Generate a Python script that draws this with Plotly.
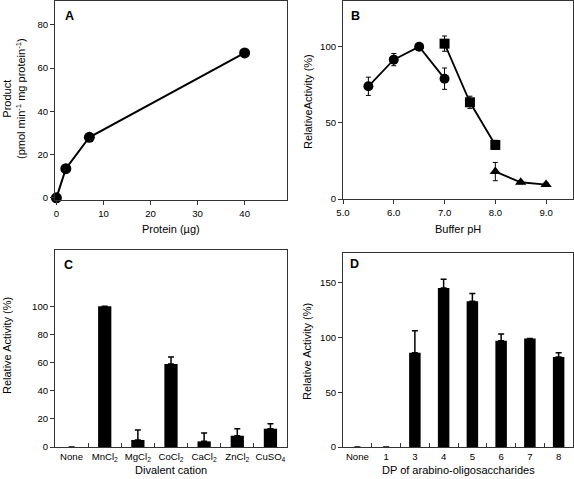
import plotly.graph_objects as go

# ---------------- data ----------------
# Panel A
protein_ug = [0, 2, 7, 40]
product = [0, 13.5, 28, 67]

# Panel B (three buffers)
ph_circle = [5.5, 6.0, 6.5, 7.0]
act_circle = [74, 91.5, 100, 79]
err_circle = [6, 4, 1, 7]
ph_square = [7.0, 7.5, 8.0]
act_square = [102, 63.5, 35.5]
err_square = [5, 4, 3]
ph_tri = [8.0, 8.5, 9.0]
act_tri = [18, 11, 9.5]
err_tri = [6, 1, 1]

# Panel C
cations = ["None", "MnCl2", "MgCl2", "CoCl2", "CaCl2", "ZnCl2", "CuSO4"]
cation_labels = ["None", "MnCl<sub>2</sub>", "MgCl<sub>2</sub>", "CoCl<sub>2</sub>",
                 "CaCl<sub>2</sub>", "ZnCl<sub>2</sub>", "CuSO<sub>4</sub>"]
cation_act = [0, 100, 5, 59, 4, 8, 13]
cation_err = [None, None, 7, 5, 6, 5, 3.5]

# Panel D
dp = ["None", "1", "3", "4", "5", "6", "7", "8"]
dp_act = [0, 0, 86, 145, 133, 97, 99, 82]
dp_err = [None, None, 20, 8, 7, 6, None, 4]

# --------------- figure ---------------
FONT = "Liberation Sans, Arial, sans-serif"
BLACK = "#000000"
AX = "#333333"

fig = go.Figure()

fig.add_trace(go.Scatter(x=protein_ug, y=product, mode="lines+markers",
                         line=dict(color=BLACK, width=2),
                         marker=dict(symbol="circle", size=11, color=BLACK),
                         xaxis="x", yaxis="y", showlegend=False, cliponaxis=False))

for xs, ys, es, sym in [(ph_circle, act_circle, err_circle, "circle"),
                        (ph_square, act_square, err_square, "square"),
                        (ph_tri, act_tri, err_tri, "triangle-up")]:
    fig.add_trace(go.Scatter(x=xs, y=ys, mode="lines+markers",
                             line=dict(color=BLACK, width=1.8),
                             marker=dict(symbol=sym, size=10, color=BLACK),
                             error_y=dict(type="data", array=es, color=BLACK,
                                          thickness=1, width=2.5),
                             xaxis="x2", yaxis="y2", showlegend=False))

fig.add_trace(go.Bar(x=cations, y=cation_act, width=0.4,
                     marker=dict(color=BLACK, line=dict(width=0)),
                     error_y=dict(type="data", symmetric=False, array=cation_err,
                                  arrayminus=[0] * len(cation_err),
                                  color=BLACK, thickness=1.5, width=3),
                     xaxis="x3", yaxis="y3", showlegend=False))

fig.add_trace(go.Bar(x=dp, y=dp_act, width=0.4,
                     marker=dict(color=BLACK, line=dict(width=0)),
                     error_y=dict(type="data", symmetric=False, array=dp_err,
                                  arrayminus=[0] * len(dp_err),
                                  color=BLACK, thickness=1.5, width=3),
                     xaxis="x4", yaxis="y4", showlegend=False))

W, H = 574, 479


def dx(px):
    return px / W


def dy(py):
    return 1 - py / H


tickfont = dict(family=FONT, size=9.6, color=BLACK)
common = dict(showline=True, linecolor=AX, linewidth=1, mirror=True,
              showgrid=False, zeroline=False, tickfont=tickfont,
              tickcolor=AX, ticklen=4, tickwidth=1, automargin=False)

fig.update_layout(
    width=W, height=H,
    margin=dict(l=0, r=0, t=0, b=0),
    paper_bgcolor="white", plot_bgcolor="white",
    font=dict(family=FONT, color=BLACK),
    bargap=0.6,
    xaxis=dict(domain=[dx(55), dx(287)], range=[-0.3, 49], tickvals=[0, 10, 20, 30, 40],
               ticks="outside", anchor="y", tickangle=0, **common),
    yaxis=dict(domain=[dy(200), dy(1)], range=[-1, 91], tickvals=[0, 20, 40, 60, 80],
               ticks="outside", anchor="x", **common),
    xaxis2=dict(domain=[dx(343), dx(573)], range=[5.0, 9.53],
                tickvals=[5, 6, 7, 8, 9], ticktext=["5.0", "6.0", "7.0", "8.0", "9.0"],
                ticks="outside", anchor="y2", tickangle=0, **common),
    yaxis2=dict(domain=[dy(199), dy(1)], range=[0, 130], tickvals=[0, 50, 100],
                ticks="outside", anchor="x2", **common),
    xaxis3=dict(domain=[dx(55), dx(287)], type="category", tickvals=cations,
                ticktext=cation_labels, ticks="inside", tickson="boundaries",
                anchor="y3", tickangle=0, **common),
    yaxis3=dict(domain=[dy(447), dy(250)], range=[0, 140],
                tickvals=[0, 20, 40, 60, 80, 100],
                ticks="outside", anchor="x3", **common),
    xaxis4=dict(domain=[dx(343), dx(573)], type="category", tickvals=dp,
                ticks="inside", tickson="boundaries", anchor="y4", tickangle=0, **common),
    yaxis4=dict(domain=[dy(447), dy(253)], range=[0, 177], tickvals=[0, 50, 100, 150],
                ticks="outside", anchor="x4", **common),
)

titlefont = dict(family=FONT, size=11, color=BLACK)
letterfont = dict(family=FONT, size=12.5, color=BLACK)

annos = [
    # panel letters
    dict(x=dx(69), y=dy(16), text="<b>A</b>", font=letterfont),
    dict(x=dx(355), y=dy(16), text="<b>B</b>", font=letterfont),
    dict(x=dx(68), y=dy(265), text="<b>C</b>", font=letterfont),
    dict(x=dx(354), y=dy(264), text="<b>D</b>", font=letterfont),
    # x titles
    dict(x=dx(171), y=dy(229), text="Protein (µg)", font=titlefont),
    dict(x=dx(458), y=dy(229), text="Buffer pH", font=titlefont),
    dict(x=dx(171), y=dy(470), text="Divalent cation", font=titlefont),
    dict(x=dx(458), y=dy(470), text="DP of arabino-oligosaccharides", font=titlefont),
    # y titles
    dict(x=dx(14), y=dy(99), text="Product<br>(pmol min<sup>-1</sup> mg protein<sup>-1</sup>)",
         font=titlefont, textangle=-90),
    dict(x=dx(308), y=dy(102), text="RelativeActivity (%)", font=titlefont, textangle=-90),
    dict(x=dx(7), y=dy(346), text="Relative Activity (%)", font=titlefont, textangle=-90),
    dict(x=dx(307), y=dy(352), text="Relative Activity (%)", font=titlefont, textangle=-90),
]
for a in annos:
    a.update(xref="paper", yref="paper", showarrow=False, xanchor="center", yanchor="middle")
fig.update_layout(annotations=annos)

fig.write_html("out.html", config={"displayModeBar": False},
               post_script="document.body.style.margin='0px';document.body.style.overflow='hidden';")
